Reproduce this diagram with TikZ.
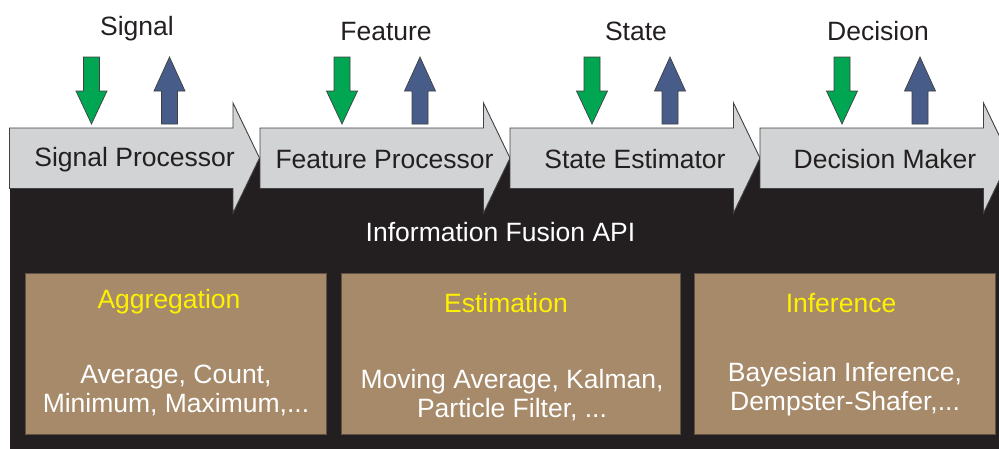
\documentclass[tikz,border=0pt]{standalone}
\usepackage{fontspec}
\setmainfont{Liberation Sans}
\definecolor{panel}{HTML}{231F20}
\definecolor{stagefill}{HTML}{D1D3D4}
\definecolor{stageline}{HTML}{414042}
\definecolor{inflow}{HTML}{00A651}
\definecolor{outflow}{HTML}{475C89}
\definecolor{methodfill}{HTML}{A68A6A}
\definecolor{methodline}{HTML}{5F5346}
\definecolor{methodtitle}{HTML}{FFF200}
\tikzset{
  txt/.style={font=\fontsize{26.5pt}{29pt}\selectfont, inner sep=0pt, anchor=base},
  darktxt/.style={txt, text=panel},
  lighttxt/.style={txt, text=white},
  titletxt/.style={txt, text=methodtitle},
  stageshape/.style={fill=stagefill, draw=stageline, line width=0.9pt, line join=miter},
  inshape/.style={fill=inflow, draw=stageline, line width=0.7pt},
  outshape/.style={fill=outflow, draw=stageline, line width=0.7pt},
  methodbox/.style={fill=methodfill, draw=methodline, line width=0.9pt,
    minimum width=#1, minimum height=161pt, inner sep=0pt},
}
% one processing stage: block arrow plus its in/out arrows, left edge at x
\newcommand{\stageblock}[1]{%
  \draw[stageshape] (#1,128) -- (#1+223.5,128) -- (#1+223.5,103) -- (#1+250,158)
    -- (#1+223.5,213) -- (#1+223.5,188.5) -- (#1,188.5) -- cycle;
  \draw[inshape] (#1+74,57) -- (#1+90,57) -- (#1+90,91) -- (#1+97.5,91)
    -- (#1+82,124) -- (#1+66.5,91) -- (#1+74,91) -- cycle;
  \draw[outshape] (#1+152,124) -- (#1+168,124) -- (#1+168,91) -- (#1+175.5,91)
    -- (#1+160,57) -- (#1+144.5,91) -- (#1+152,91) -- cycle;
}
\begin{document}
\begin{tikzpicture}[x=1pt, y=-1pt]
  \useasboundingbox (0,0) rectangle (999,448);
  % dark API panel
  \fill[panel] (9.5,158) rectangle (1020,460);
  % processing chain
  \stageblock{9.5}
  \stageblock{260}
  \stageblock{510}
  \stageblock{760}
  % data labels above the chain
  \node[darktxt] (lsig)  at (137,35) {Signal};
  \node[darktxt] (lfeat) at (386,40) {Feature};
  \node[darktxt] (lstat) at (636,40) {State};
  \node[darktxt] (ldec)  at (878,40) {Decision};
  % stage names
  \node[darktxt] (sp) at (134.5,166) {Signal Processor};
  \node[darktxt] (fp) at (384.5,168) {Feature Processor};
  \node[darktxt] (se) at (635,168) {State Estimator};
  \node[darktxt] (dm) at (885,168) {Decision Maker};
  % API caption
  \node[lighttxt] (api) at (500.5,241) {Information Fusion API};
  % method groups
  \node[methodbox=301pt] (agg) at (175.5,353.5) {};
  \node[methodbox=339pt] (est) at (510.5,353.5) {};
  \node[methodbox=301pt] (inf) at (844.5,353.5) {};
  \node[titletxt] (aggt) at (169,308) {Aggregation};
  \node[titletxt] (estt) at (506,312) {Estimation};
  \node[titletxt] (inft) at (841,312) {Inference};
  \node[lighttxt] (agg1) at (176,383) {Average, Count,};
  \node[lighttxt] (agg2) at (176,412) {Minimum, Maximum,...};
  \node[lighttxt] (est1) at (512,388) {Moving Average, Kalman,};
  \node[lighttxt] (est2) at (512,417) {Particle Filter, ...};
  \node[lighttxt] (inf1) at (845,381) {Bayesian Inference,};
  \node[lighttxt] (inf2) at (845,410) {Dempster-Shafer,...};
\end{tikzpicture}
\end{document}
